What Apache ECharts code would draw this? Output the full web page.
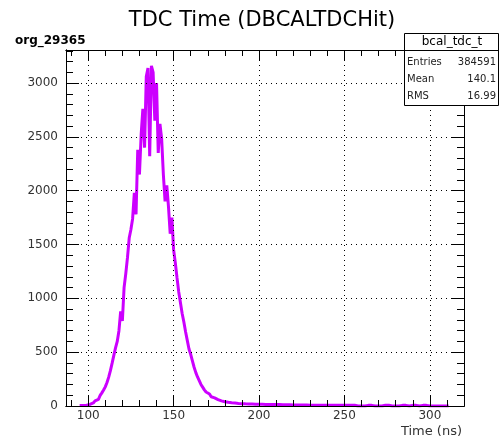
<!DOCTYPE html>
<html><head><meta charset="utf-8">
<script src="https://cdn.jsdelivr.net/npm/echarts@6/dist/echarts.min.js"></script>
<style>html,body{margin:0;padding:0;background:#fff}#c{width:500px;height:439px}</style>
</head><body><div id="c"></div>
<script>
// ---- data ----
const binStart = 95;   // low edge of first bin (ns)
const binWidth = 1;    // ns
const counts = [
  4, 5, 6, 8, 10, 14, 20, 28, 36, 48,                 // 95-104
  62, 78, 98, 122, 148, 178, 218, 268, 328, 398,      // 105-114
  470, 540, 600, 700, 880, 790, 1100, 1230, 1380, 1560, // 115-124
  1640, 1740, 1980, 1780, 2380, 2150, 2520, 2760, 2400, 3060, // 125-134
  3140, 2320, 3160, 3100, 2650, 3000, 2350, 2620, 2480, 2150, // 135-144
  1900, 2050, 1850, 1600, 1750, 1450, 1330, 1190, 1060, 960,  // 145-154
  860, 780, 690, 610, 530, 480, 420, 360, 310, 270,   // 155-164
  235, 200, 175, 150, 130, 112, 98, 86, 76, 68,       // 165-174
  60, 54, 48, 44, 40, 37, 34, 32, 30, 28,             // 175-184
  27, 26, 24, 23, 22, 21, 20, 19, 19, 18,             // 185-194
  18, 18, 17, 17, 17, 16, 16, 16, 15, 15,             // 195-204
  15, 14, 14, 14, 13, 13, 13, 12, 12, 12,             // 205-214
  11, 11, 11, 11, 10, 10, 10, 10, 9, 10,              // 215-224
  9, 9, 9, 9, 8, 9, 8, 8, 8, 8,                       // 225-234
  7, 8, 7, 7, 7, 7, 7, 6, 7, 6,                       // 235-244
  6, 6, 6, 6, 7, 6, 7, 6, 7, 6,                       // 245-254
  7, 0, 0, 0, 0, 0, 0, 7, 6, 7,                       // 255-264
  6, 7, 0, 0, 0, 0, 0, 6, 7, 6,                       // 265-274
  7, 0, 0, 0, 0, 0, 0, 6, 6, 7,                       // 275-284
  6, 6, 0, 0, 6, 6, 6, 0, 0, 0,                       // 285-294
  6, 6, 6, 6, 0, 0, 0, 0, 0, 0,                       // 295-304
  0, 0, 0, 0, 0, 0                                    // 305-310
];
const xMajorTicks = [100, 150, 200, 250, 300];
const xMinorTicks = [90, 100, 110, 120, 130, 140, 150, 160, 170, 180, 190, 200, 210, 220, 230, 240, 250, 260, 270, 280, 290, 300, 310, 320];
const yMajorTicks = [0, 500, 1000, 1500, 2000, 2500, 3000];
const yMinorTicks = [0, 100, 200, 300, 400, 500, 600, 700, 800, 900, 1000, 1100, 1200, 1300, 1400, 1500, 1600, 1700, 1800, 1900, 2000, 2100, 2200, 2300, 2400, 2500, 2600, 2700, 2800, 2900, 3000, 3100, 3200, 3300];
const chartTitle = 'TDC Time (DBCALTDCHit)';
const canvasName = 'org_29365';
const xTitle = 'Time (ns)';
const statsTitle = 'bcal_tdc_t';
const statsLabels = ['Entries', 'Mean', 'RMS'];
const statsValues = ['384591', '140.1', '16.99'];

const X_MIN = 87, X_MAX = 320, Y_MIN = 0, Y_MAX = 3307;
const FONT = 'DejaVu Sans';
const LINE_COLOR = '#cc00ff';

// histogram step data built from bins
const histData = counts.map((v, i) => [binStart + i * binWidth, v]);
histData.push([binStart + counts.length * binWidth, counts[counts.length - 1]]);

function xAx(pos, ticks, len, labels, split) {
  return {
    type: 'value', position: pos, min: X_MIN, max: X_MAX, z: 10,
    axisLine: { show: true, onZero: false, lineStyle: { color: '#000', width: 1 } },
    axisTick: { show: true, inside: true, length: len, customValues: ticks, lineStyle: { color: '#000', width: 1 } },
    axisLabel: { show: labels, customValues: ticks, margin: 4, color: '#333', fontFamily: FONT, fontSize: 12, formatter: v => String(v) },
    splitLine: { show: split, lineStyle: { color: '#000', width: 1, type: [1, 4] } }
  };
}
function yAx(pos, ticks, len, labels, split) {
  return {
    type: 'value', position: pos, min: Y_MIN, max: Y_MAX, z: 10,
    axisLine: { show: true, onZero: false, lineStyle: { color: '#000', width: 1 } },
    axisTick: { show: true, inside: true, length: len, customValues: ticks, lineStyle: { color: '#000', width: 1 } },
    axisLabel: { show: labels, customValues: ticks, margin: 8, color: '#333', fontFamily: FONT, fontSize: 12, formatter: v => String(v) },
    splitLine: { show: split, lineStyle: { color: '#000', width: 1, type: [1, 4] } }
  };
}

const chart = echarts.init(document.getElementById('c'), null, { renderer: 'canvas' });
chart.setOption({
  animation: false,
  backgroundColor: '#fff',
  grid: { left: 66, right: 36, top: 50, bottom: 33, containLabel: false },
  xAxis: [
    xAx('bottom', xMajorTicks, 11, true, true),
    xAx('bottom', xMinorTicks, 6, false, false),
    xAx('top', xMajorTicks, 11, false, false),
    xAx('top', xMinorTicks, 6, false, false)
  ],
  yAxis: [
    yAx('left', yMajorTicks, 13, true, true),
    yAx('left', yMinorTicks, 7, false, false),
    yAx('right', yMajorTicks, 13, false, false),
    yAx('right', yMinorTicks, 7, false, false)
  ],
  series: [{
    type: 'line', xAxisIndex: 0, yAxisIndex: 0, step: 'end', symbol: 'none',
    data: histData, z: 2,
    lineStyle: { color: LINE_COLOR, width: 3, join: 'bevel', cap: 'butt' }
  }],
  graphic: [
    { type: 'text', x: 262, y: 21, z: 100, style: { text: chartTitle, textAlign: 'center', textVerticalAlign: 'middle', font: '21px "DejaVu Sans"', fill: '#000' } },
    { type: 'text', x: 15, y: 41, z: 100, style: { text: canvasName, textAlign: 'left', textVerticalAlign: 'middle', font: 'bold 12px "DejaVu Sans"', fill: '#000' } },
    { type: 'text', x: 462, y: 432, z: 100, style: { text: xTitle, textAlign: 'right', textVerticalAlign: 'middle', font: '13px "DejaVu Sans"', fill: '#333' } },
    { type: 'rect', z: 100, shape: { x: 404.5, y: 33.5, width: 94, height: 72 }, style: { fill: '#fff', stroke: '#000', lineWidth: 1 } },
    { type: 'line', z: 101, shape: { x1: 404.5, y1: 50.5, x2: 498.5, y2: 50.5 }, style: { stroke: '#000', lineWidth: 1 } },
    { type: 'text', x: 452, y: 42, z: 102, style: { text: statsTitle, textAlign: 'center', textVerticalAlign: 'middle', font: '12px "DejaVu Sans"', fill: '#000' } },
    ...statsLabels.map((l, i) => ({ type: 'text', x: 407, y: 62 + i * 17, z: 102, style: { text: l, textAlign: 'left', textVerticalAlign: 'middle', font: '10px "DejaVu Sans"', fill: '#222' } })),
    ...statsValues.map((v, i) => ({ type: 'text', x: 496, y: 62 + i * 17, z: 102, style: { text: v, textAlign: 'right', textVerticalAlign: 'middle', font: '10px "DejaVu Sans"', fill: '#222' } }))
  ]
});
</script></body></html>
